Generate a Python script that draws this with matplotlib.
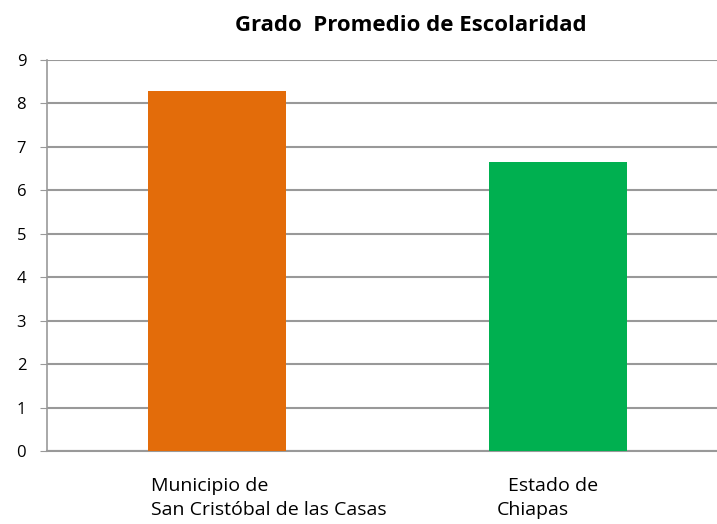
import matplotlib.pyplot as plt

categorias = ['Municipio de\nSan Cristóbal de las Casas', 'Estado de\nChiapas']
valores = [8.29, 6.66]
colores = ['#E36C0A', '#00B050']
ticks_y = [0, 1, 2, 3, 4, 5, 6, 7, 8, 9]

plt.rcParams['font.family'] = ['Open Sans', 'DejaVu Sans']

fig = plt.figure(figsize=(7.17, 5.24), dpi=100)
ax = fig.add_axes([0.0656, 0.139, 0.9344, 0.7466])

x = list(range(len(categorias)))
ax.bar(x, valores, width=0.406, color=colores, zorder=3)

ax.set_xlim(-0.5, 1.468)
ax.set_ylim(0, 9)
ax.set_yticks(ticks_y)
ax.yaxis.grid(True, color='#999999', linewidth=1.5, zorder=0)
ax.tick_params(axis='y', length=5, color='#999999', labelsize=12, pad=10)
ax.set_xticks([])

for lado in ['top', 'right']:
    ax.spines[lado].set_visible(False)
ax.spines['left'].set_color('#999999')
ax.spines['bottom'].set_color('#999999')
ax.spines['left'].set_linewidth(1.2)
ax.spines['bottom'].set_linewidth(1.5)

# etiquetas de categoria alineadas a la izquierda como en Excel
desplaz = [(-0.194, -0.194), (-0.147, -0.18)]
for i, etiqueta in enumerate(categorias):
    lineas = etiqueta.split('\n')
    for j, linea in enumerate(lineas):
        ax.text(i + desplaz[i][j], -0.6 - j * 0.54, linea, ha='left', va='top',
                fontsize=14, transform=ax.transData)

fig.text(0.573, 0.952, 'Grado  Promedio de Escolaridad', ha='center', va='center',
         fontsize=16, fontweight='bold')

fig.savefig('out.png', dpi=100)
